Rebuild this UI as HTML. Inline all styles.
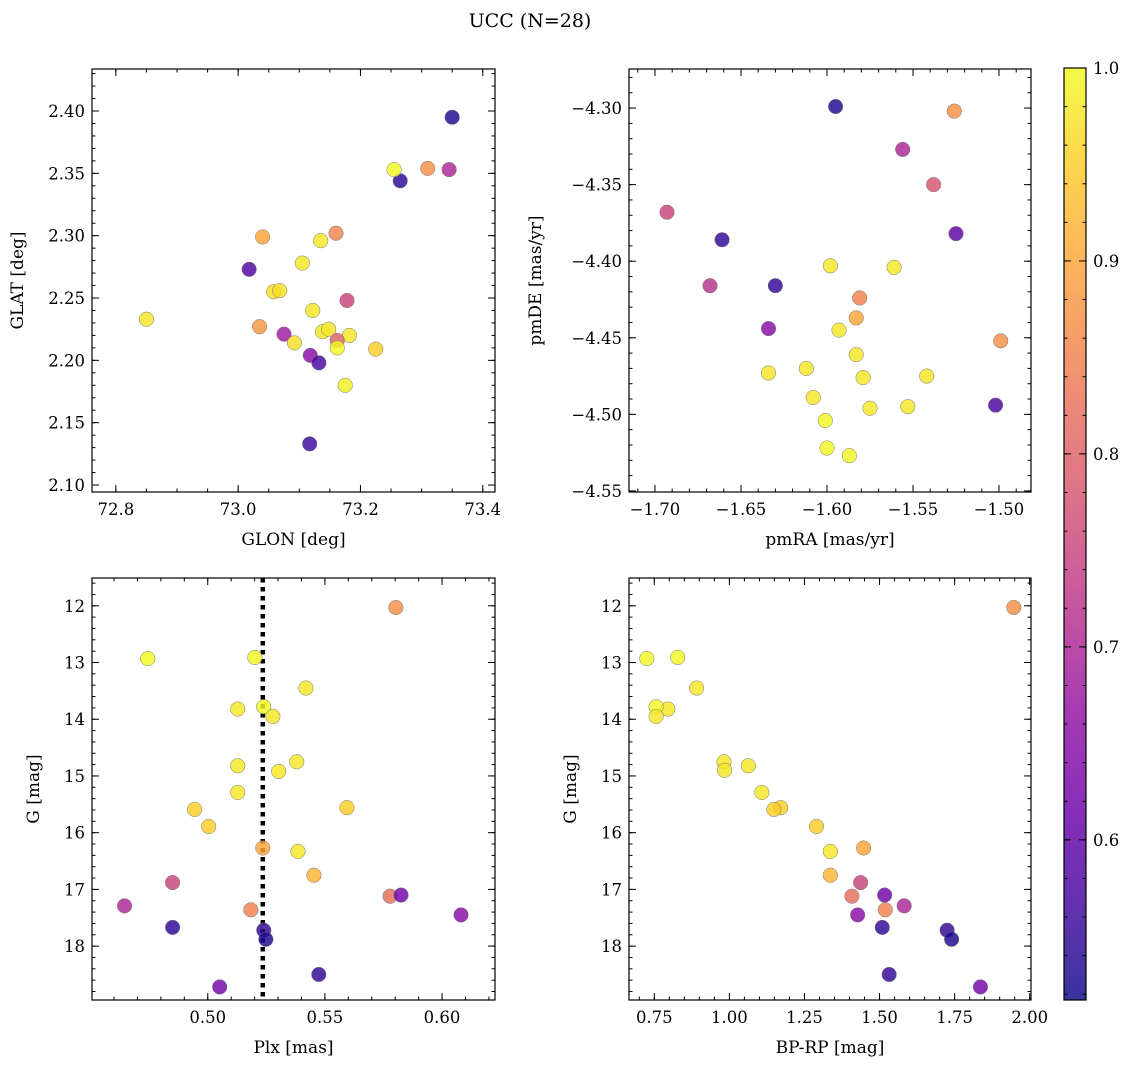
<!DOCTYPE html>
<html><head><meta charset="utf-8"><style>
body{margin:0;background:#fff;}
svg{display:block;font-family:"DejaVu Serif","Liberation Serif",serif;}
</style></head><body>
<svg id="fig" width="1136" height="1068" viewBox="0 0 1136 1068" xmlns="http://www.w3.org/2000/svg">
<text x="530" y="27" font-size="19" text-anchor="middle">UCC (N=28)</text>
</svg>
<script>
// Panel 1: GLON / GLAT
const glon=[73.35,73.265,73.255,73.31,73.345,73.04,73.16,73.135,73.105,73.018,73.058,73.068,73.178,72.85,73.035,73.122,73.075,73.092,73.138,73.148,73.182,73.162,73.162,73.225,73.118,73.132,73.175,73.117];
const glat=[2.395,2.344,2.353,2.354,2.353,2.299,2.302,2.296,2.278,2.273,2.255,2.256,2.248,2.233,2.227,2.240,2.221,2.214,2.223,2.225,2.220,2.216,2.210,2.209,2.204,2.198,2.180,2.133];
const prob1=[0.53,0.55,1.0,0.87,0.70,0.90,0.85,0.98,0.98,0.58,0.97,0.97,0.75,0.98,0.88,0.98,0.68,0.97,0.98,0.98,0.98,0.80,1.0,0.95,0.65,0.57,0.99,0.56];
// Panel 2: pmRA / pmDE
const pmra=[-1.595,-1.526,-1.556,-1.538,-1.693,-1.661,-1.525,-1.668,-1.630,-1.598,-1.561,-1.581,-1.583,-1.634,-1.593,-1.499,-1.583,-1.612,-1.634,-1.579,-1.542,-1.608,-1.575,-1.553,-1.502,-1.601,-1.600,-1.587];
const pmde=[-4.299,-4.302,-4.327,-4.350,-4.368,-4.386,-4.382,-4.416,-4.416,-4.403,-4.404,-4.424,-4.437,-4.444,-4.445,-4.452,-4.461,-4.470,-4.473,-4.476,-4.475,-4.489,-4.496,-4.495,-4.494,-4.504,-4.522,-4.527];
const prob2=[0.53,0.87,0.70,0.78,0.75,0.55,0.60,0.72,0.55,0.98,0.98,0.85,0.90,0.65,0.98,0.87,0.98,0.98,0.98,0.98,0.98,0.98,0.98,0.98,0.57,1.0,1.0,1.0];
// Panels 3 & 4: Plx, BP-RP vs G
const plx=[0.5803,0.4744,0.5201,0.5419,0.5128,0.5239,0.5278,0.538,0.5128,0.5303,0.5128,0.5594,0.4944,0.5004,0.5235,0.5385,0.5453,0.485,0.4645,0.5184,0.5778,0.5825,0.6081,0.485,0.5239,0.5248,0.5474,0.5051];
const gmag=[12.03,12.93,12.91,13.45,13.82,13.78,13.95,14.75,14.82,14.92,15.29,15.56,15.59,15.89,16.27,16.33,16.75,16.88,17.29,17.36,17.12,17.10,17.45,17.67,17.72,17.88,18.50,18.72];
const prob3=[0.87,1.0,1.0,0.98,0.98,1.0,0.98,0.98,0.98,0.98,0.98,0.95,0.95,0.95,0.9,0.98,0.92,0.75,0.7,0.85,0.82,0.62,0.65,0.55,0.55,0.53,0.55,0.62];
const plxMean=0.5235;
const bprp=[1.947,0.725,0.828,0.891,0.795,0.756,0.756,0.982,1.063,0.984,1.108,1.171,1.148,1.29,1.447,1.336,1.336,1.437,1.582,1.519,1.408,1.517,1.427,1.509,1.725,1.74,1.532,1.836];
const gmag4=[12.03,12.93,12.91,13.45,13.82,13.78,13.95,14.75,14.82,14.90,15.29,15.56,15.59,15.89,16.27,16.33,16.75,16.88,17.29,17.36,17.12,17.10,17.45,17.67,17.72,17.88,18.50,18.72];
const prob4=prob3;
const cbTicks=[0.6,0.7,0.8,0.9,1.0];

const NS="http://www.w3.org/2000/svg";
const svg=document.getElementById('fig');
const VMIN=0.517,VMAX=1.0;
const stops=["#0d0887","#41049d","#6a00a8","#8f0da4","#b12a90","#cc4778","#e16462","#f2844b","#fca636","#fcce25","#f0f921"];
function hx(h){return [1,3,5].map(i=>parseInt(h.substr(i,2),16));}
function plasma(t){t=Math.max(0,Math.min(1,t));const f=t*10,i=Math.min(9,Math.floor(f)),u=f-i;const a=hx(stops[i]),b=hx(stops[i+1]);return 'rgb('+a.map((v,k)=>Math.round(v+(b[k]-v)*u)).join(',')+')';}
function cnorm(v){return (v-VMIN)/(VMAX-VMIN);}
function el(tag,attrs,parent){const e=document.createElementNS(NS,tag);for(const k in attrs)e.setAttribute(k,attrs[k]);(parent||svg).appendChild(e);return e;}

function panel(o){
  const g=el('g',{});
  
  
  const sx=v=>o.L+(v-o.x0)/(o.x1-o.x0)*(o.R-o.L);
  const sy=v=>o.B+(v-o.y0)/(o.y1-o.y0)*(o.T-o.B);
  const tg=el('g',{stroke:'#000','stroke-width':1},g);
  function ticks(lo,hi,step){const out=[];const s=Math.ceil(lo/step-1e-6),e=Math.floor(hi/step+1e-6);for(let i=s;i<=e;i++)out.push(i*step);return out;}
  const xlo=Math.min(o.x0,o.x1),xhi=Math.max(o.x0,o.x1),ylo=Math.min(o.y0,o.y1),yhi=Math.max(o.y0,o.y1);
  ticks(xlo,xhi,o.xmin).forEach(v=>{const x=sx(v);el('line',{x1:x,x2:x,y1:o.B,y2:o.B-3.5},tg);el('line',{x1:x,x2:x,y1:o.T,y2:o.T+3.5},tg);});
  ticks(ylo,yhi,o.ymin).forEach(v=>{const y=sy(v);el('line',{x1:o.L,x2:o.L+3.5,y1:y,y2:y},tg);el('line',{x1:o.R,x2:o.R-3.5,y1:y,y2:y},tg);});
  ticks(xlo,xhi,o.xmaj).forEach(v=>{const x=sx(v);el('line',{x1:x,x2:x,y1:o.B,y2:o.B-7},tg);el('line',{x1:x,x2:x,y1:o.T,y2:o.T+7},tg);
    const t=el('text',{x:x,y:o.B+23,'font-size':16.5,'text-anchor':'middle'},g);t.textContent=(v<0?'\u2212':'')+Math.abs(v).toFixed(o.xdec);
    
    });
  ticks(ylo,yhi,o.ymaj).forEach(v=>{const y=sy(v);el('line',{x1:o.L,x2:o.L+7,y1:y,y2:y},tg);el('line',{x1:o.R,x2:o.R-7,y1:y,y2:y},tg);
    const t=el('text',{x:o.L-7,y:y+6,'font-size':16.5,'text-anchor':'end'},g);t.textContent=(v<0?'\u2212':'')+Math.abs(v).toFixed(o.ydec);
    
    });
  if(o.vline!==undefined){const l=el('line',{x1:sx(o.vline),x2:sx(o.vline),y1:o.T,y2:o.B,stroke:'#000','stroke-width':4.5,'stroke-dasharray':'4.5,4.5'},g);
    
    }
  o.xs.forEach((v,i)=>{const c=el('circle',{cx:sx(v),cy:sy(o.ys[i]),r:7.3,fill:plasma(cnorm(o.cs[i])),'fill-opacity':0.82,stroke:'#777','stroke-width':0.5},g);
    
    });
  el('rect',{x:o.L,y:o.T,width:o.R-o.L,height:o.B-o.T,fill:'none',stroke:'#000','stroke-width':1.2},g);
  const xl=el('text',{x:(o.L+o.R)/2,y:o.B+53,'font-size':17,'text-anchor':'middle'},g);xl.textContent=o.xlabel;
  
  
  const yx=o.L-o.ylabOff,yy=(o.T+o.B)/2;
  const yl=el('text',{x:yx,y:yy,'font-size':17,'text-anchor':'middle',transform:`rotate(-90 ${yx} ${yy})`},g);yl.textContent=o.ylabel;
  
  
}
panel({name:'glon-glat-panel',L:92,R:495,T:69,B:492,x0:72.761,x1:73.42,y0:2.0944,y1:2.4337,xmaj:0.2,xmin:0.05,ymaj:0.05,ymin:0.01,xdec:1,ydec:2,xs:glon,ys:glat,cs:prob1,xlabel:'GLON [deg]',ylabel:'GLAT [deg]',ylabOff:69});
panel({name:'proper-motion-panel',L:629,R:1031,T:69,B:492,x0:-1.7151,x1:-1.4814,y0:-4.5507,y1:-4.2745,xmaj:0.05,xmin:0.01,ymaj:0.05,ymin:0.01,xdec:2,ydec:2,xs:pmra,ys:pmde,cs:prob2,xlabel:'pmRA [mas/yr]',ylabel:'pmDE [mas/yr]',ylabOff:88});
panel({name:'parallax-panel',L:92,R:495,T:578,B:1000,x0:0.4506,x1:0.6226,y0:18.95,y1:11.51,xmaj:0.05,xmin:0.01,ymaj:1,ymin:0.2,xdec:2,ydec:0,xs:plx,ys:gmag,cs:prob3,vline:plxMean,xlabel:'Plx [mas]',ylabel:'G [mag]',ylabOff:53});
panel({name:'cmd-panel',L:629,R:1031,T:578,B:1000,x0:0.6657,x1:2.0043,y0:18.95,y1:11.51,xmaj:0.25,xmin:0.05,ymaj:1,ymin:0.2,xdec:2,ydec:0,xs:bprp,ys:gmag4,cs:prob4,xlabel:'BP-RP [mag]',ylabel:'G [mag]',ylabOff:53});

// colorbar
const cb=el('g',{});


const CL=1064,CR=1086,CT=68,CB=1000;
const defs=el('defs',{},cb);
const grad=el('linearGradient',{id:'cbg',x1:0,y1:1,x2:0,y2:0},defs);
for(let i=0;i<=20;i++){const t=i/20;el('stop',{offset:t,'stop-color':plasma(t),'stop-opacity':0.82},grad);}
el('rect',{x:CL,y:CT,width:CR-CL,height:CB-CT,fill:'url(#cbg)'},cb);
const cy=v=>CB+(v-VMIN)/(VMAX-VMIN)*(CT-CB);
for(let v=0.52;v<=1.0001;v+=0.02){const y=cy(v);el('line',{x1:CR,x2:CR-3.5,y1:y,y2:y,stroke:'#000'},cb);el('line',{x1:CL,x2:CL+3.5,y1:y,y2:y,stroke:'#000'},cb);}
cbTicks.forEach(v=>{const y=cy(v);el('line',{x1:CR,x2:CR-7,y1:y,y2:y,stroke:'#000'},cb);el('line',{x1:CL,x2:CL+7,y1:y,y2:y,stroke:'#000'},cb);
  const t=el('text',{x:CR+7,y:y+6,'font-size':16.5},cb);t.textContent=v.toFixed(1);
  
  });
el('rect',{x:CL,y:CT,width:CR-CL,height:CB-CT,fill:'none',stroke:'#000','stroke-width':1.2},cb);
</script>
</body></html>
